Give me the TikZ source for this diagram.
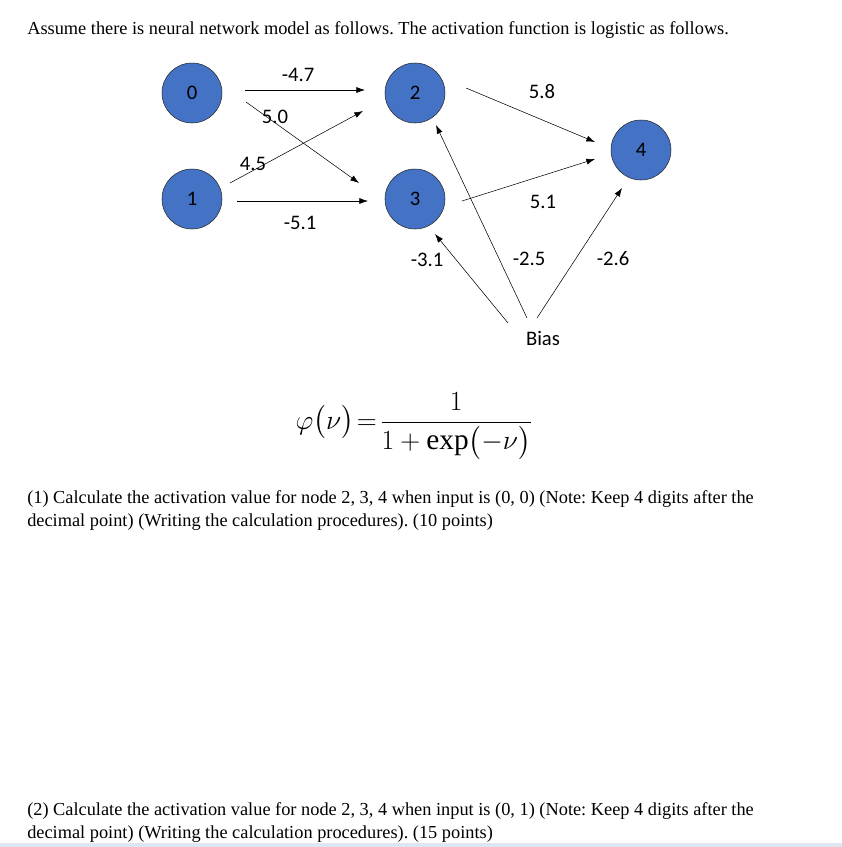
\documentclass[tikz,border=0pt]{standalone}
\usepackage{amsmath}
\usepackage{fontspec}
\setmainfont{Liberation Serif}
\newfontfamily\calibri{Carlito}
\usepackage{xcolor}
\definecolor{NodeBlue}{RGB}{68,114,196}
\definecolor{StripBlue}{RGB}{222,230,242}
\usetikzlibrary{arrows.meta, calc}
\tikzset{
  % Network unit
  neuron/.style={
    circle, draw=black!85, thin,
    fill=NodeBlue,
    minimum size=45pt, inner sep=0pt,
    font=\calibri\fontsize{15.5}{17}\selectfont
  },
  % Weight label
  wlabel/.style={font=\calibri\fontsize{15.5}{17}\selectfont, inner sep=1pt},
  % Arrows
  arr/.style={-{Latex[length=6.5pt,width=4.5pt]}, thin, black},
  % Body text
  para/.style={anchor=base west, inner sep=0pt, align=left,
    font=\fontsize{13.75}{17.25}\selectfont},
}

\begin{document}
\frenchspacing
\begin{tikzpicture}[x=0.75pt, y=-0.75pt]

  %% Page frame
  \useasboundingbox (0,0) rectangle (842,847);
  \fill[StripBlue] (0,843) rectangle (842,847);

  %% Heading
  \node[para] (intro) at (27,34) {Assume there is neural network model as follows. The activation function is logistic as follows.};

  %% Units
  \node[neuron] (n0) at (192,93) {0};
  \node[neuron] (n1) at (192,199) {1};
  \node[neuron] (n2) at (415,93) {2};
  \node[neuron] (n3) at (415,199) {3};
  \node[neuron] (n4) at (641,150) {4};
  \node[wlabel] (bias) at (543,338) {Bias};

  %% Input layer to hidden layer
  \draw[arr] ($(n0)+(53,-3)$) -- ($(n2)+(-50,-3)$);
  \draw[arr] ($(n0)+(54,9)$) -- ($(n3)+(-56,-16)$);
  \draw[arr] ($(n1)+(38,-16)$) -- ($(n2)+(-52,18)$);
  \draw[arr] ($(n1)+(45,2)$) -- ($(n3)+(-47,2)$);

  \node[wlabel] (w02) at (298,75) {-4.7};
  \node[wlabel] (w03) at (275,117) {5.0};
  \node[wlabel] (w12) at (253,164) {4.5};
  \node[wlabel] (w13) at (300,223) {-5.1};

  %% Hidden layer to output
  \draw[arr] ($(n2)+(51,-5)$) -- ($(n4)+(-46,-8)$);
  \draw[arr] ($(n3)+(47,2)$) -- ($(n4)+(-46,9)$);

  \node[wlabel] (w24) at (542,92) {5.8};
  \node[wlabel] (w34) at (543,202) {5.1};

  %% Bias
  \draw[arr] ($(bias)+(-35,-15)$) -- ($(n3)+(20,35)$);
  \draw[arr] ($(bias)+(-16,-20)$) -- ($(n2)+(21,32)$);
  \draw[arr] ($(bias)+(-6,-20)$) -- ($(n4)+(-19,38)$);

  \node[wlabel] (wb3) at (427,260) {-3.1};
  \node[wlabel] (wb2) at (529,259) {-2.5};
  \node[wlabel] (wb4) at (613,259) {-2.6};

  %% Activation
  \node[inner sep=0pt, font=\fontsize{22}{26}\selectfont] (phi) at (414,426)
    {$\varphi\bigl(\nu\bigr)\!=\!\dfrac{1}{1+\exp\bigl(-\nu\bigr)}$};

  %% Questions
  \node[para] (q1) at (27,526) {(1) Calculate the activation value for node 2, 3, 4 when input is (0, 0) (Note: Keep 4 digits after the\\decimal point) (Writing the calculation procedures). (10 points)};
  \node[para] (q2) at (27,838) {(2) Calculate the activation value for node 2, 3, 4 when input is (0, 1) (Note: Keep 4 digits after the\\decimal point) (Writing the calculation procedures). (15 points)};

\end{tikzpicture}
\end{document}
